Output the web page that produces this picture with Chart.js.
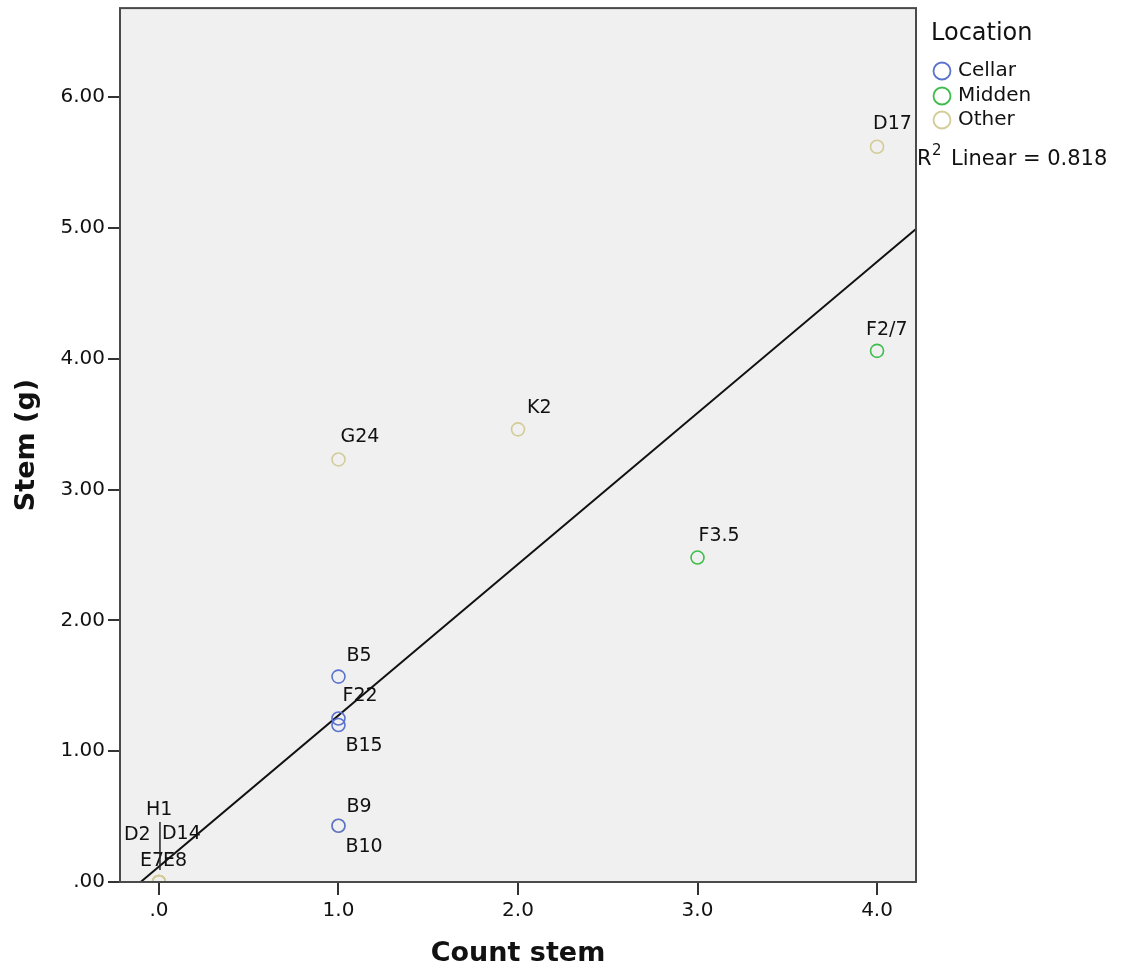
<!DOCTYPE html>
<html>
<head>
<meta charset="utf-8">
<script src="https://cdn.jsdelivr.net/npm/chart.js@4.4.0/dist/chart.umd.min.js"></script>
<style>
  html, body { margin: 0; padding: 0; background: #fff; }
  #wrap { width: 1123px; height: 974px; }
</style>
</head>
<body>
<div id="wrap"><canvas id="stemChart"></canvas></div>
<script>
// data
const cellarX = [1, 1, 1, 1];
const cellarY = [1.57, 1.25, 1.20, 0.43];
const cellarLabels = ['B5', 'F22', 'B15', 'B9'];

const middenX = [3, 4];
const middenY = [2.48, 4.06];
const middenLabels = ['F3.5', 'F2/7'];

const otherX = [1, 2, 4, 1, 0, 0, 0, 0, 0];
const otherY = [3.23, 3.46, 5.62, 0.43, 0, 0, 0, 0, 0];
const otherLabels = ['G24', 'K2', 'D17', 'B10', 'H1', 'D2', 'D14', 'E7', 'E8'];

const xTicks = [0, 1, 2, 3, 4];
const yTicks = [0, 1, 2, 3, 4, 5, 6];
const rSquared = '0.818';

const colors = { Cellar: '#5b73cf', Midden: '#3dbd4c', Other: '#d3cc97' };
const FONT = 'DejaVu Sans';

function pts(xs, ys, labels) {
  return xs.map((x, i) => ({ x: x, y: ys[i], label: labels[i] }));
}

// least squares fit over all points
const allX = cellarX.concat(middenX, otherX);
const allY = cellarY.concat(middenY, otherY);
const n = allX.length;
const mx = allX.reduce((a, b) => a + b, 0) / n;
const my = allY.reduce((a, b) => a + b, 0) / n;
let sxy = 0, sxx = 0;
for (let i = 0; i < n; i++) {
  sxy += (allX[i] - mx) * (allY[i] - my);
  sxx += (allX[i] - mx) * (allX[i] - mx);
}
const slope = sxy / sxx;
const intercept = my - slope * mx;
const xMin = -0.217, xMax = 4.217;
const fitLine = [
  { x: xMin, y: intercept + slope * xMin },
  { x: xMax, y: intercept + slope * xMax }
];

// label placement (px offsets from the marker, text left-aligned)
const labelOffsets = {
  B5: [8, -21], F22: [4, -22], B15: [7, 21], B9: [8, -19], B10: [7, 21],
  G24: [2, -22], K2: [9, -21], 'F3.5': [1, -21], 'F2/7': [-11, -21], D17: [-4, -23],
  H1: [-13, -72], D2: [-35, -47], D14: [3, -48], E7: [-19, -21], E8: [4, -21]
};

const extras = {
  id: 'extras',
  afterDatasetsDraw(chart) {
    const ctx = chart.ctx;
    const area = chart.chartArea;
    ctx.save();
    // point labels
    ctx.font = '19px "' + FONT + '"';
    ctx.fillStyle = '#111';
    ctx.textAlign = 'left';
    ctx.textBaseline = 'middle';
    chart.data.datasets.forEach((ds, di) => {
      if (ds.type === 'line') return;
      const meta = chart.getDatasetMeta(di);
      meta.data.forEach((el, i) => {
        const lab = ds.data[i].label;
        const off = labelOffsets[lab] || [6, -20];
        ctx.fillText(lab, el.x + off[0], el.y + off[1]);
      });
    });
    // leader line under H1
    const xs = chart.scales.x, ys = chart.scales.y;
    const px = xs.getPixelForValue(0) + 1, py = ys.getPixelForValue(0);
    ctx.strokeStyle = '#222';
    ctx.lineWidth = 1.5;
    ctx.beginPath();
    ctx.moveTo(px, py - 60);
    ctx.lineTo(px, py - 12);
    ctx.stroke();

    // frame
    ctx.strokeStyle = '#4a4a4a';
    ctx.lineWidth = 2;
    ctx.strokeRect(area.left, area.top, area.right - area.left, area.bottom - area.top);

    // legend
    ctx.fillStyle = '#111';
    ctx.font = '24px "' + FONT + '"';
    ctx.fillText('Location', 931, 34);
    const items = ['Cellar', 'Midden', 'Other'];
    const rows = [71, 96, 120];
    ctx.font = '20px "' + FONT + '"';
    items.forEach((name, i) => {
      ctx.strokeStyle = colors[name];
      ctx.lineWidth = 1.8;
      ctx.beginPath();
      ctx.arc(942, rows[i], 8.5, 0, Math.PI * 2);
      ctx.stroke();
      ctx.fillText(name, 958, rows[i]);
    });

    // R squared
    ctx.font = '21px "' + FONT + '"';
    ctx.fillText('R', 917, 160);
    ctx.font = '15px "' + FONT + '"';
    ctx.fillText('2', 932, 151);
    ctx.font = '21px "' + FONT + '"';
    ctx.fillText('Linear = ' + rSquared, 951, 160);
    ctx.restore();
  }
};

const ctx = document.getElementById('stemChart').getContext('2d');
const scatterStyle = (name) => ({
  pointRadius: 6.5,
  pointHoverRadius: 6.5,
  borderWidth: 1.6,
  borderColor: colors[name],
  backgroundColor: 'rgba(0,0,0,0)'
});

new Chart(ctx, {
  type: 'scatter',
  data: {
    datasets: [
      Object.assign({ label: 'Cellar', data: pts(cellarX, cellarY, cellarLabels) }, scatterStyle('Cellar')),
      Object.assign({ label: 'Midden', data: pts(middenX, middenY, middenLabels) }, scatterStyle('Midden')),
      Object.assign({ label: 'Other', data: pts(otherX, otherY, otherLabels) }, scatterStyle('Other')),
      {
        type: 'line',
        label: 'Fit',
        data: fitLine,
        borderColor: '#111',
        borderWidth: 2,
        pointRadius: 0,
        fill: false
      }
    ]
  },
  options: {
    responsive: true,
    maintainAspectRatio: false,
    animation: false,
    layout: { padding: { top: 6, right: 207, bottom: 0, left: 0 } },
    plugins: {
      legend: { display: false },
      tooltip: { enabled: false }
    },
    scales: {
      x: {
        type: 'linear',
        min: xMin,
        max: xMax,
        afterBuildTicks: (s) => { s.ticks = xTicks.map(v => ({ value: v })); },
        afterFit: (s) => { s.height = 92; s.paddingLeft = 0; s.paddingRight = 0; },
        border: { display: false },
        grid: { drawOnChartArea: false, drawTicks: true, tickLength: 13, lineWidth: 2, color: '#333' },
        ticks: {
          padding: 4,
          color: '#111',
          font: { family: FONT, size: 20 },
          callback: (v) => (v === 0 ? '.0' : v.toFixed(1))
        },
        title: {
          display: true,
          text: 'Count stem',
          color: '#111',
          font: { family: FONT, size: 27, weight: 'bold' },
          padding: { top: 0, bottom: 4 }
        }
      },
      y: {
        type: 'linear',
        min: 0,
        max: 6.68,
        afterBuildTicks: (s) => { s.ticks = yTicks.map(v => ({ value: v })); },
        afterFit: (s) => {
          s.width = 120;
          s.paddingTop = 0;
          s.paddingBottom = 0;
          if (s._margins) { s._margins.top = 0; s._margins.bottom = 0; }
        },
        border: { display: false },
        grid: { drawOnChartArea: false, drawTicks: true, tickLength: 12, lineWidth: 2, color: '#333' },
        ticks: {
          padding: 3,
          color: '#111',
          font: { family: FONT, size: 20 },
          callback: (v) => (v === 0 ? '.00' : v.toFixed(2))
        },
        title: {
          display: true,
          text: 'Stem (g)',
          color: '#111',
          font: { family: FONT, size: 27, weight: 'bold' },
          padding: { top: 11, bottom: 0 }
        }
      }
    }
  },
  plugins: [
    {
      id: 'plotBg',
      beforeDraw(chart) {
        const a = chart.chartArea;
        chart.ctx.save();
        chart.ctx.fillStyle = '#f0f0f0';
        chart.ctx.fillRect(a.left, a.top, a.right - a.left, a.bottom - a.top);
        chart.ctx.restore();
      }
    },
    extras
  ]
});
</script>
</body>
</html>
